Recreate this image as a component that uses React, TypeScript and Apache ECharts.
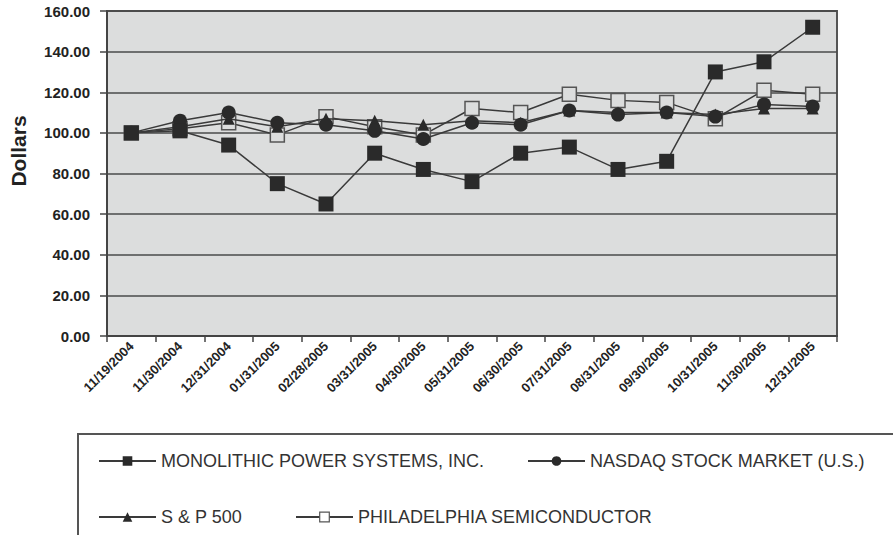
import React, { useEffect, useRef } from "react";
import * as echarts from "echarts";

const categories = [
  "11/19/2004", "11/30/2004", "12/31/2004", "01/31/2005", "02/28/2005",
  "03/31/2005", "04/30/2005", "05/31/2005", "06/30/2005", "07/31/2005",
  "08/31/2005", "09/30/2005", "10/31/2005", "11/30/2005", "12/31/2005",
];
const mpsValues = [100, 101, 94, 75, 65, 90, 82, 76, 90, 93, 82, 86, 130, 135, 152];
const nasdaqValues = [100, 106, 110, 105, 104, 101, 97, 105, 104, 111, 109, 110, 108, 114, 113];
const spValues = [100, 103, 107, 103, 107, 106, 104, 106, 105, 111, 110, 110, 109, 112, 112];
const phlxValues = [100, 102, 105, 99, 108, 103, 99, 112, 110, 119, 116, 115, 107, 121, 119];
const seriesNames = [
  "MONOLITHIC POWER SYSTEMS, INC.",
  "NASDAQ STOCK MARKET (U.S.)",
  "S & P 500",
  "PHILADELPHIA SEMICONDUCTOR",
];

export default function App() {
  const ref = useRef<HTMLDivElement>(null);
  useEffect(() => {
    if (!ref.current) return;
    const chart = echarts.init(ref.current, null, { renderer: "svg" });
    const dark = "#2a2a2a";
    const lineCol = "#3a3a3a";
    const bg = "#dcdddd";
    const legendText = { fontSize: 18, color: "#333", fontFamily: "Liberation Sans, Arial, sans-serif" };
    const mk = (name: string, data: number[], symbol: string, size: number, filled: boolean, z: number) => ({
      name,
      type: "line",
      data,
      symbol,
      symbolSize: size,
      z,
      lineStyle: { color: lineCol, width: 1.5 },
      itemStyle: filled
        ? { color: dark, borderColor: dark, borderWidth: 0 }
        : { color: bg, borderColor: "#555", borderWidth: 1.5 },
      emphasis: { disabled: true },
    });
    chart.setOption({
      animation: false,
      backgroundColor: "#fff",
      textStyle: { fontFamily: "Liberation Sans, Arial, sans-serif" },
      grid: {
        left: 107, right: 56, top: 11, bottom: 199,
        show: true, backgroundColor: bg, borderColor: "#555", borderWidth: 2,
      },
      xAxis: {
        type: "category",
        data: categories,
        boundaryGap: true,
        axisLine: { lineStyle: { color: "#444", width: 2 } },
        axisTick: { show: true, length: 6, lineStyle: { color: "#444", width: 1.5 } },
        axisLabel: { rotate: 45, fontSize: 13, fontWeight: "bold", color: "#222", margin: 8, interval: 0 },
      },
      yAxis: {
        type: "value",
        min: 0, max: 160, interval: 20,
        axisLine: { show: true, lineStyle: { color: "#444", width: 2 } },
        axisTick: { show: true, length: 7, lineStyle: { color: "#444", width: 1.5 } },
        axisLabel: {
          fontSize: 15, fontWeight: "bold", color: "#222", margin: 17,
          formatter: (v: number) => v.toFixed(2),
        },
        splitLine: { lineStyle: { color: "#4a4a4a", width: 1.5 } },
      },
      legend: [
        { data: [seriesNames[0]], left: 98, top: 452 },
        { data: [seriesNames[1]], left: 527, top: 452 },
        { data: [seriesNames[2]], left: 98, top: 508 },
        { data: [{ name: seriesNames[3], itemStyle: { color: "#fff", borderColor: "#555", borderWidth: 1.2 } }], left: 295, top: 508 },
      ].map((l) => ({
        ...l,
        orient: "horizontal",
        selectedMode: false,
        itemWidth: 57,
        itemHeight: 12,
        itemGap: 0,
        padding: 0,
        textStyle: legendText,
      })),
      graphic: [
        {
          type: "rect",
          shape: { x: 78, y: 434, width: 900, height: 200 },
          style: { fill: "none", stroke: "#555", lineWidth: 2 },
          silent: true,
        },
        {
          type: "text",
          x: 18,
          y: 151,
          rotation: Math.PI / 2,
          style: {
            text: "Dollars",
            fontSize: 21,
            fontWeight: "bold",
            fill: "#222",
            align: "center",
            verticalAlign: "middle",
            fontFamily: "Liberation Sans, Arial, sans-serif",
          },
          silent: true,
        },
      ],
      series: [
        mk(seriesNames[3], phlxValues, "rect", 14, false, 2),
        mk(seriesNames[2], spValues, "triangle", 12, true, 3),
        mk(seriesNames[1], nasdaqValues, "circle", 14, true, 4),
        mk(seriesNames[0], mpsValues, "rect", 15, true, 5),
      ],
    });
    return () => chart.dispose();
  }, []);
  return (
    <div
      ref={ref}
      style={{ position: "fixed", left: 0, top: 0, width: 893, height: 535, background: "#fff" }}
    />
  );
}
